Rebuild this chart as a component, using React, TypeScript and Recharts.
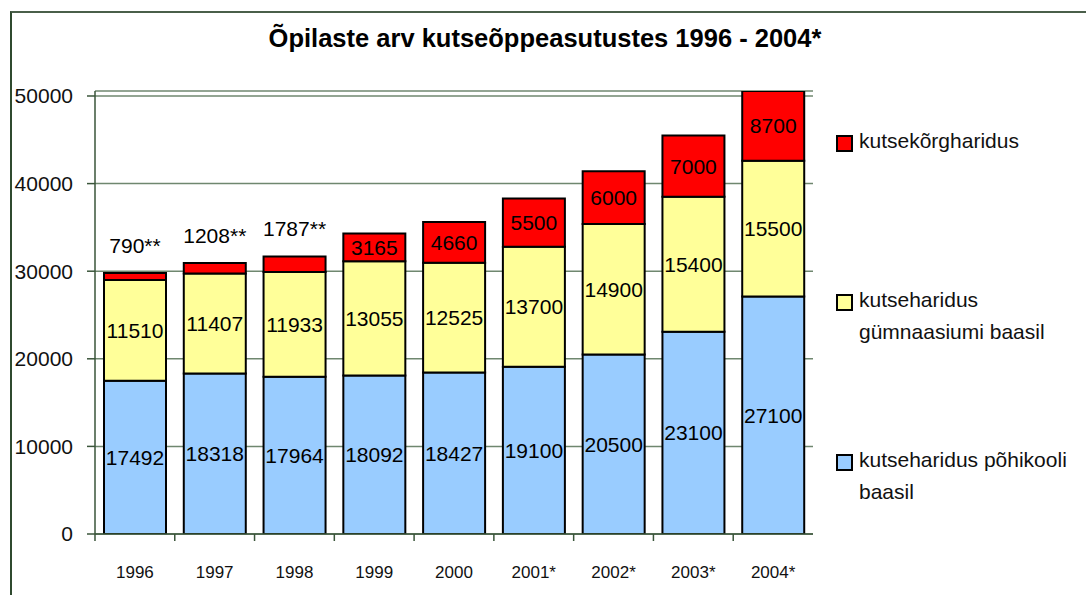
import React from "react";
import { BarChart, Bar, XAxis, YAxis, CartesianGrid, LabelList } from "recharts";

const categories = ["1996", "1997", "1998", "1999", "2000", "2001*", "2002*", "2003*", "2004*"];
const basicSchool = [17492, 18318, 17964, 18092, 18427, 19100, 20500, 23100, 27100];
const upperSecondary = [11510, 11407, 11933, 13055, 12525, 13700, 14900, 15400, 15500];
const higherVocational = [790, 1208, 1787, 3165, 4660, 5500, 6000, 7000, 8700];
const higherNotes = ["**", "**", "**", "", "", "", "", "", ""];
const yTicks = [0, 10000, 20000, 30000, 40000, 50000];

const SERIES = [
  { key: "higher", name: "kutsekõrgharidus", color: "#FF0000" },
  { key: "upper", name: "kutseharidus gümnaasiumi baasil", color: "#FFFF99" },
  { key: "basic", name: "kutseharidus põhikooli baasil", color: "#99CCFF" },
];

const data = categories.map((year, i) => ({
  year,
  basic: basicSchool[i],
  upper: upperSecondary[i],
  higher: higherVocational[i],
}));

const FONT = "Liberation Sans, Arial, sans-serif";
const CAT_WIDTH = 79.8;

const XTick = (props: any) => {
  const { x, y, payload } = props;
  return (
    <g>
      <line x1={x - CAT_WIDTH / 2} x2={x - CAT_WIDTH / 2} y1={y} y2={y + 7} stroke="#3a553a" strokeWidth={1.5} />
      <text x={x} y={y + 38} textAnchor="middle" dominantBaseline="central" fontSize={17} fill="#111" fontFamily={FONT}>
        {payload.value}
      </text>
    </g>
  );
};

const centerLabel = (props: any) => {
  const { x, y, width, height, value } = props;
  return (
    <text x={x + width / 2} y={y + height / 2} textAnchor="middle" dominantBaseline="central" fontSize={21} fill="#000" fontFamily={FONT}>
      {value}
    </text>
  );
};

const higherLabel = (props: any) => {
  const { x, y, width, height, value, index } = props;
  const note = higherNotes[index];
  const ty = note ? y - 28 : y + height / 2;
  return (
    <text x={x + width / 2} y={ty} textAnchor="middle" dominantBaseline="central" fontSize={21} fill="#000" fontFamily={FONT}>
      {value}
      {note}
    </text>
  );
};

const legendTops = [131, 290, 450];

export default function App() {
  return (
    <div style={{ position: "absolute", left: 0, top: 0, width: 1086, height: 595, background: "#fff", fontFamily: FONT, overflow: "hidden" }}>
      <div style={{ position: "absolute", left: 10, top: 11, right: -5, bottom: -5, borderLeft: "2px solid #2f4a2f", borderTop: "2px solid #4a5f4a" }} />
      <div style={{ position: "absolute", left: 0, width: 1090, top: 24, textAlign: "center", fontSize: 25.5, fontWeight: "bold", color: "#000" }}>
        Õpilaste arv kutseõppeasutustes 1996 - 2004*
      </div>
      <BarChart width={1086} height={595} data={data} margin={{ top: 91, right: 273, bottom: 31, left: 15 }} barSize={62}>
        <CartesianGrid vertical={false} stroke="#6f876f" strokeWidth={1.5} />
        <XAxis dataKey="year" tick={<XTick />} tickLine={false} tickSize={0} tickMargin={0} height={30} axisLine={{ stroke: "#3a553a", strokeWidth: 1.5 }} interval={0} />
        <YAxis
          domain={[0, 50570]}
          allowDataOverflow
          ticks={yTicks}
          width={80}
          tickSize={8}
          tickMargin={14}
          tick={{ fontSize: 21, fill: "#111", fontFamily: FONT }}
          tickLine={{ stroke: "#3a553a", strokeWidth: 1.5 }}
          axisLine={{ stroke: "#3a553a", strokeWidth: 1.5 }}
        />
        <Bar dataKey="basic" stackId="a" fill="#99CCFF" stroke="#000" strokeWidth={2} isAnimationActive={false}>
          <LabelList dataKey="basic" content={centerLabel} />
        </Bar>
        <Bar dataKey="upper" stackId="a" fill="#FFFF99" stroke="#000" strokeWidth={2} isAnimationActive={false}>
          <LabelList dataKey="upper" content={centerLabel} />
        </Bar>
        <Bar dataKey="higher" stackId="a" fill="#FF0000" stroke="#000" strokeWidth={2} isAnimationActive={false}>
          <LabelList dataKey="higher" content={higherLabel} />
        </Bar>
      </BarChart>
      {SERIES.map((s, i) => (
        <div key={s.key} style={{ position: "absolute", left: 836, top: legendTops[i], width: 250, display: "flex", alignItems: "flex-start" }}>
          <div style={{ width: 13, height: 13, background: s.color, border: "2px solid #000", marginTop: 4, flexShrink: 0 }} />
          <div style={{ marginLeft: 6, width: 228, fontSize: 21, lineHeight: "32px", marginTop: -6, color: "#111" }}>{s.name}</div>
        </div>
      ))}
    </div>
  );
}
